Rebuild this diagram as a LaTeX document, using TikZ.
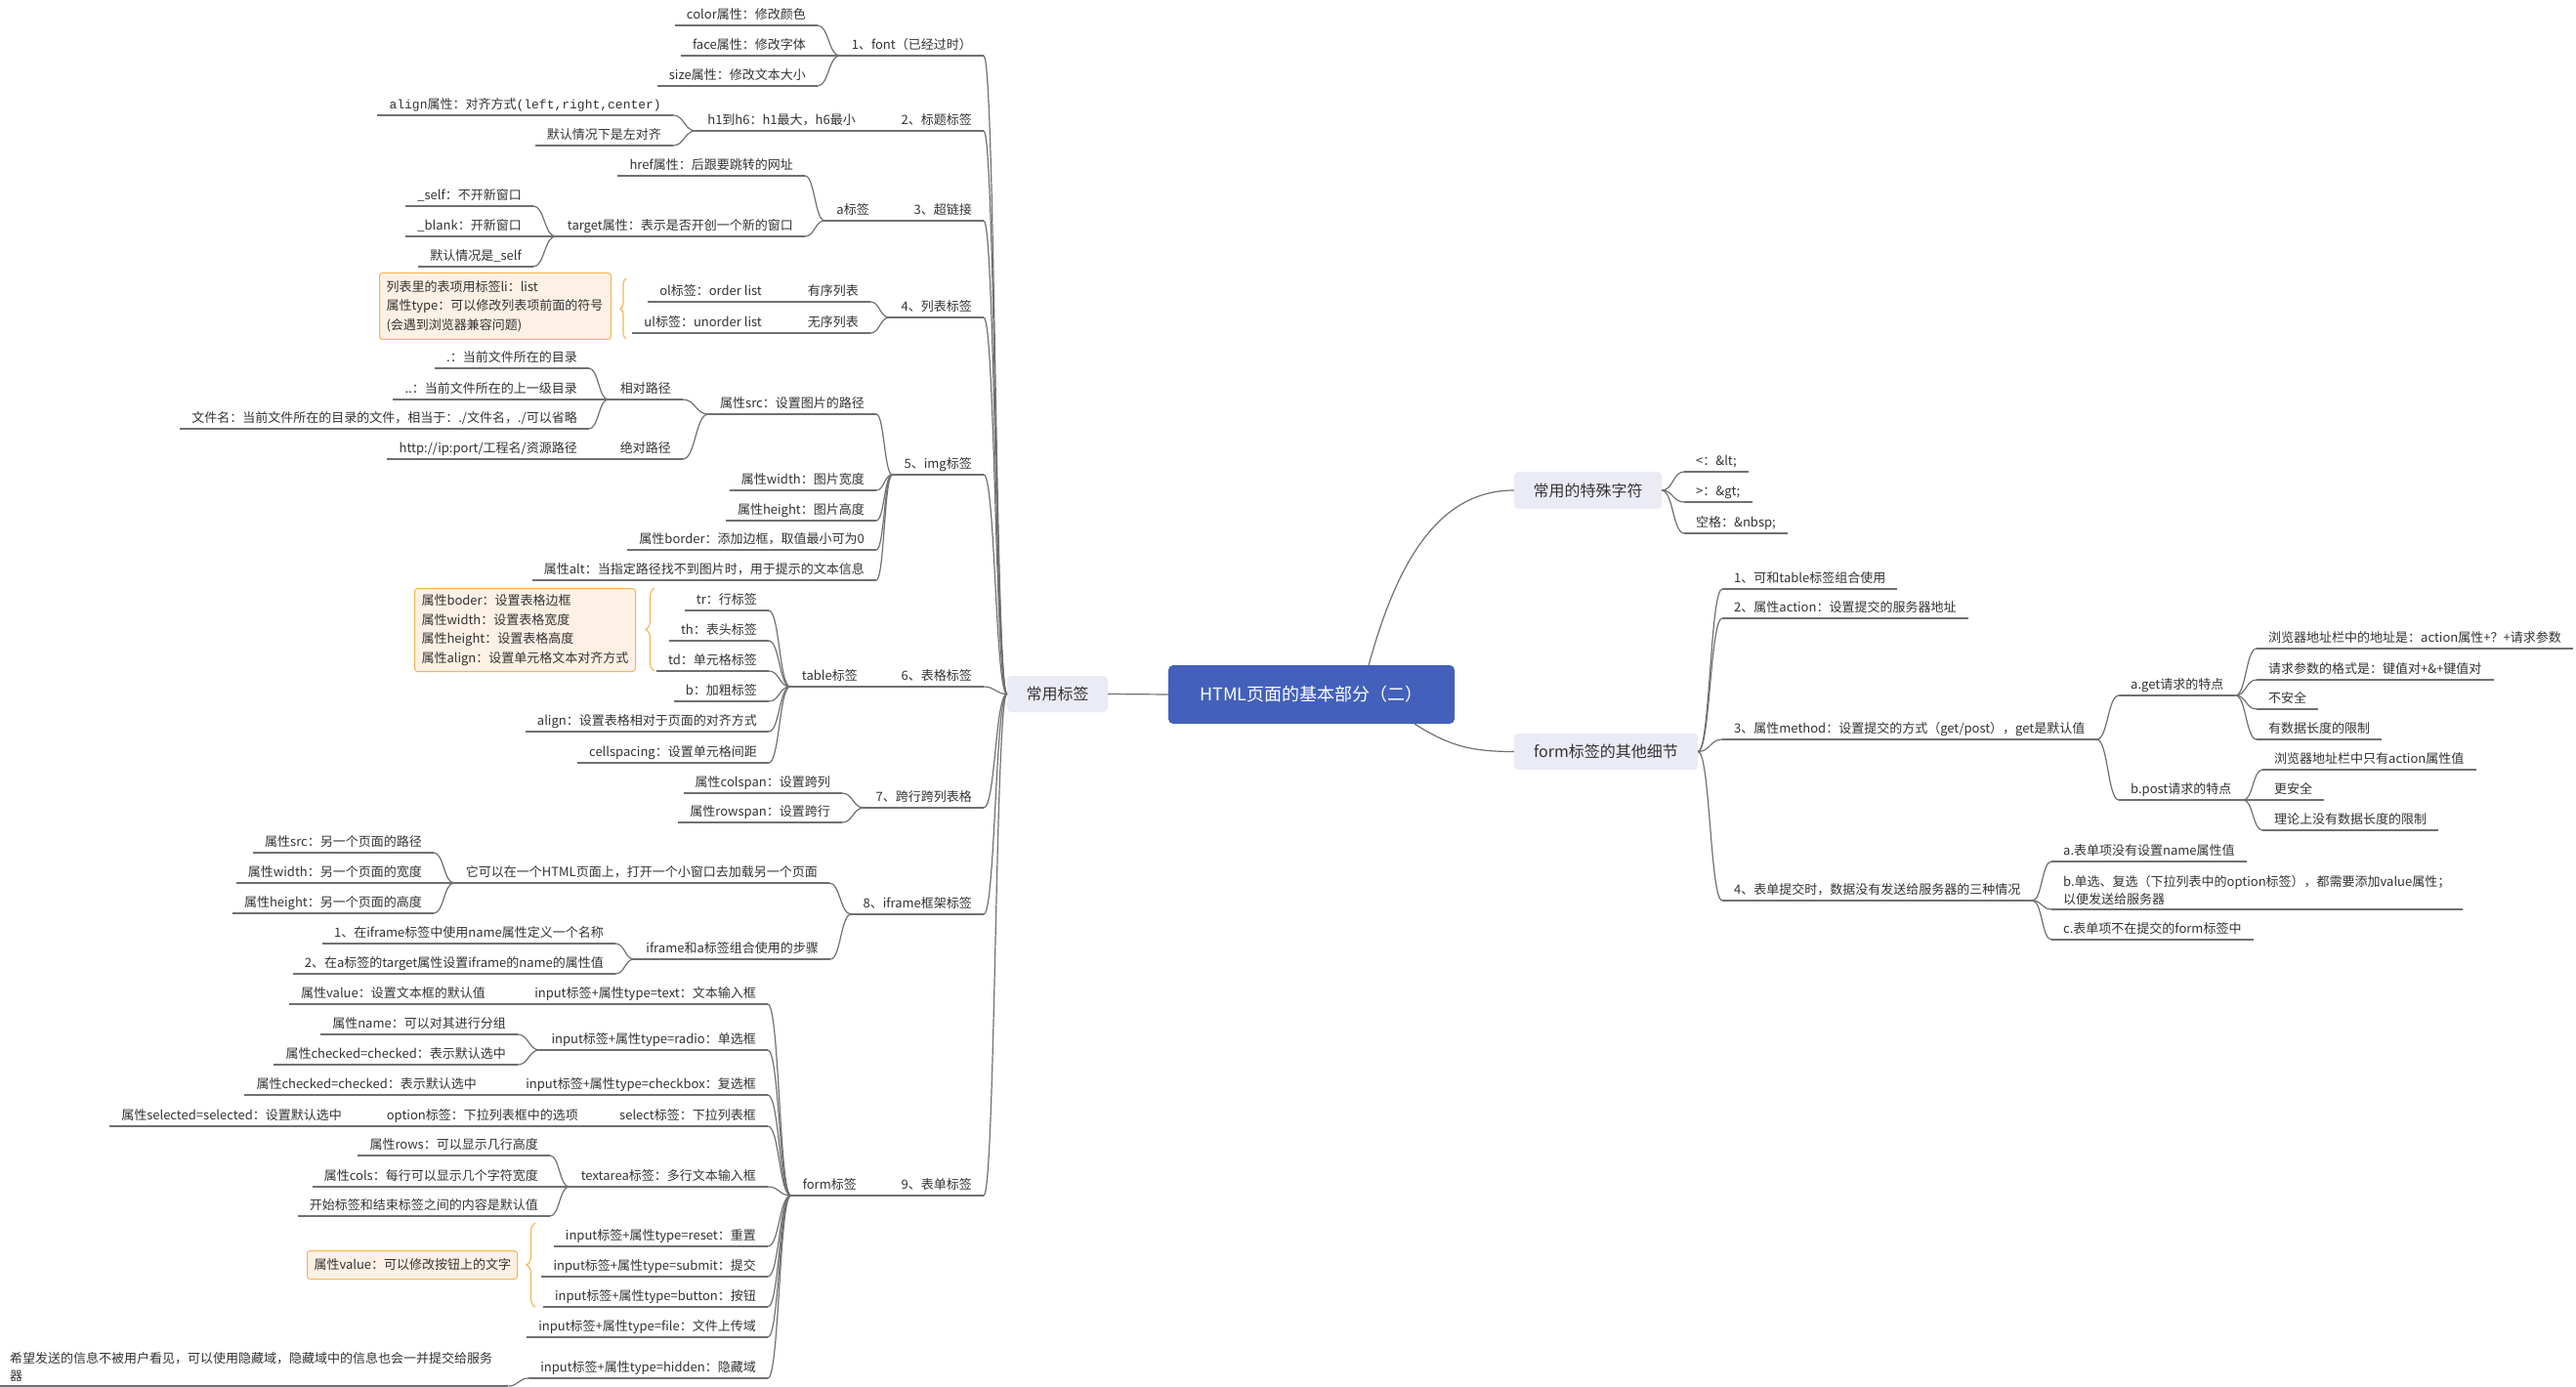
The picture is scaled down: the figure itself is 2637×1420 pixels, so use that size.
\documentclass[tikz,border=0pt]{standalone}
\usepackage{fontspec}
\setmainfont{Noto Sans CJK SC}
\newfontfamily\monof{Liberation Mono}
\usetikzlibrary{calc,decorations.pathreplacing}
\definecolor{lc}{RGB}{112,112,112}
\definecolor{tc}{RGB}{51,51,51}
\definecolor{mc}{RGB}{67,97,186}
\definecolor{l1c}{RGB}{234,235,244}
\definecolor{cf}{RGB}{253,240,228}
\definecolor{cb}{RGB}{244,180,84}
\tikzset{
  ln/.style={draw=lc,line width=1.2pt},
  ul/.style={draw=lc,line width=1.2pt},
  tx/.style={text=tc,font=\fontsize{13}{15}\selectfont,inner xsep=12pt,inner ysep=3pt,text height=11pt,text depth=3pt},
  lt/.style={tx,anchor=south east},
  rt/.style={tx,anchor=south west},
  tx2/.style={text=tc,font=\fontsize{13}{18.5}\selectfont,align=left,inner xsep=12pt,inner ysep=4pt},
  l1/.style={fill=l1c,rounded corners=4pt,text=tc,font=\fontsize{16}{18}\selectfont,inner sep=0pt},
  mainn/.style={fill=mc,rounded corners=5pt,text=white,font=\fontsize{18}{20}\selectfont,inner sep=0pt},
  cbox/.style={fill=cf,draw=cb,line width=1pt,rounded corners=3pt,text=tc,font=\fontsize{13}{19.5}\selectfont,align=left,inner xsep=7pt,anchor=north west},
  brc/.style={draw=cb,line width=1.1pt,decorate},
}
\newcommand\mmL[5][]{\node[lt,#1] (#2) at (#3,#4) {#5};\draw[ul] (#2.south west) -- (#2.south east);}
\newcommand\mmR[5][]{\node[rt,#1] (#2) at (#3,#4) {#5};\draw[ul] (#2.south west) -- (#2.south east);}
\newcommand\mmC[2]{\draw[ln] (#1) .. controls ($(#1)!0.5!(#1-|#2)$) and ($(#2)!0.5!(#2-|#1)$) .. (#2);}
\begin{document}
\begin{tikzpicture}[x=1pt,y=-1pt]
\fill[white] (0,0) rectangle (2637,1420);
\useasboundingbox (0,0) rectangle (2637,1420);
% central
\node[mainn,minimum width=293pt,minimum height=60pt] (main) at (1342.5,711) {HTML页面的基本部分（二）};
\node[l1,minimum width=103pt,minimum height=37pt] (cy) at (1082.5,710.5) {常用标签};
\node[l1,minimum width=151pt,minimum height=38pt] (sp) at (1625.5,502) {常用的特殊字符};
\node[l1,minimum width=188pt,minimum height=37pt] (fo) at (1644,769.5) {form标签的其他细节};
\coordinate (ms) at ($(main.north west)!0.7!(main.north east)$);
\coordinate (mf) at ($(main.south west)!0.86!(main.south east)$);
\draw[ln] (main.west) -- (cy.east);
\draw[ln] (ms) .. controls +(30,-110) and +(-75,0) .. (sp.west);
\draw[ln] (mf) .. controls +(35,22) and +(-45,0) .. (fo.west);
% ---- left: level 1
\mmL{f1}{1007}{57}{1、font（已经过时）}
\mmL{f2}{1007}{134}{2、标题标签}
\mmL{f3}{1007}{226}{3、超链接}
\mmL{f4}{1007}{325}{4、列表标签}
\mmL{f5}{1007}{486}{5、img标签}
\mmL{f6}{1007}{703}{6、表格标签}
\mmL{f7}{1007}{827}{7、跨行跨列表格}
\mmL{f8}{1007}{936}{8、iframe框架标签}
\mmL{f9}{1007}{1224}{9、表单标签}
\foreach \c in {f1,f2,f3,f4,f5,f6,f7,f8,f9} {\mmC{\c.south east}{cy.west}}
% 1 font
\mmL{f1a}{837}{26}{color属性：修改颜色}
\mmL{f1b}{837}{57}{face属性：修改字体}
\mmL{f1c}{837}{88}{size属性：修改文本大小}
\foreach \c in {f1a,f1b,f1c} {\mmC{\c.south east}{f1.south west}}
% 2 heading
\mmL{f2a}{888}{134}{h1到h6：h1最大，h6最小}
\mmL{f2a1}{689}{118}{{\monof align}属性：对齐方式{\monof (left,right,center)}}
\mmL{f2a2}{689}{149}{默认情况下是左对齐}
\mmC{f2a.south east}{f2.south west}
\foreach \c in {f2a1,f2a2} {\mmC{\c.south east}{f2a.south west}}
% 3 link
\mmL{f3a}{902}{226}{a标签}
\mmL{f3a1}{824}{180}{href属性：后跟要跳转的网址}
\mmL{f3a2}{824}{242}{target属性：表示是否开创一个新的窗口}
\mmL{f3a2a}{546}{211}{\_self：不开新窗口}
\mmL{f3a2b}{546}{242}{\_blank：开新窗口}
\mmL{f3a2c}{546}{273}{默认情况是\_self}
\mmC{f3a.south east}{f3.south west}
\foreach \c in {f3a1,f3a2} {\mmC{\c.south east}{f3a.south west}}
\foreach \c in {f3a2a,f3a2b,f3a2c} {\mmC{\c.south east}{f3a2.south west}}
% 4 list
\mmL{f4a}{891}{309}{有序列表}
\mmL{f4a1}{792}{309}{ol标签：order list}
\mmL{f4b}{891}{341}{无序列表}
\mmL{f4b1}{792}{341}{ul标签：unorder list}
\foreach \c in {f4a,f4b} {\mmC{\c.south east}{f4.south west}}
\mmC{f4a1.south east}{f4a.south west}
\mmC{f4b1.south east}{f4b.south west}
\node[cbox,text width=223pt,minimum height=68pt] (c4) at (388,279) {列表里的表项用标签li：list\\属性type：可以修改列表项前面的符号\\(会遇到浏览器兼容问题)};
\draw[brc,decoration={brace,amplitude=6pt}] (641,347) -- (641,285);
% 5 img
\mmL{f5a}{897}{424}{属性src：设置图片的路径}
\mmL{f5a1}{699}{409}{相对路径}
\mmL{f5a1a}{603}{377}{.：当前文件所在的目录}
\mmL{f5a1b}{603}{409}{..：当前文件所在的上一级目录}
\mmL{f5a1c}{603}{439}{文件名：当前文件所在的目录的文件，相当于：./文件名，./可以省略}
\mmL{f5a2}{699}{470}{绝对路径}
\mmL{f5a2a}{603}{470}{http://ip:port/工程名/资源路径}
\mmL{f5b}{897}{502}{属性width：图片宽度}
\mmL{f5c}{897}{533}{属性height：图片高度}
\mmL{f5d}{897}{563}{属性border：添加边框，取值最小可为0}
\mmL{f5e}{897}{594}{属性alt：当指定路径找不到图片时，用于提示的文本信息}
\foreach \c in {f5a,f5b,f5c,f5d,f5e} {\mmC{\c.south east}{f5.south west}}
\foreach \c in {f5a1,f5a2} {\mmC{\c.south east}{f5a.south west}}
\foreach \c in {f5a1a,f5a1b,f5a1c} {\mmC{\c.south east}{f5a1.south west}}
\mmC{f5a2a.south east}{f5a2.south west}
% 6 table
\mmL{f6a}{890}{703}{table标签}
\mmL{f6a1}{787}{625}{tr：行标签}
\mmL{f6a2}{787}{656}{th：表头标签}
\mmL{f6a3}{787}{687}{td：单元格标签}
\mmL{f6a4}{787}{718}{b：加粗标签}
\mmL{f6a5}{787}{749}{align：设置表格相对于页面的对齐方式}
\mmL{f6a6}{787}{781}{cellspacing：设置单元格间距}
\mmC{f6a.south east}{f6.south west}
\foreach \c in {f6a1,f6a2,f6a3,f6a4,f6a5,f6a6} {\mmC{\c.south east}{f6a.south west}}
\node[cbox,text width=212pt,minimum height=85pt] (c6) at (424,602) {属性boder：设置表格边框\\属性width：设置表格宽度\\属性height：设置表格高度\\属性align：设置单元格文本对齐方式};
\draw[brc,decoration={brace,amplitude=9pt}] (670,687) -- (670,602);
% 7 span
\mmL{f7a}{862}{812}{属性colspan：设置跨列}
\mmL{f7b}{862}{842}{属性rowspan：设置跨行}
\foreach \c in {f7a,f7b} {\mmC{\c.south east}{f7.south west}}
% 8 iframe
\mmL{f8a}{849}{904}{它可以在一个HTML页面上，打开一个小窗口去加载另一个页面}
\mmL{f8a1}{444}{873}{属性src：另一个页面的路径}
\mmL{f8a2}{444}{904}{属性width：另一个页面的宽度}
\mmL{f8a3}{444}{935}{属性height：另一个页面的高度}
\mmL{f8b}{850}{982}{iframe和a标签组合使用的步骤}
\mmL{f8b1}{630}{966}{1、在iframe标签中使用name属性定义一个名称}
\mmL{f8b2}{630}{997}{2、在a标签的target属性设置iframe的name的属性值}
\foreach \c in {f8a,f8b} {\mmC{\c.south east}{f8.south west}}
\foreach \c in {f8a1,f8a2,f8a3} {\mmC{\c.south east}{f8a.south west}}
\foreach \c in {f8b1,f8b2} {\mmC{\c.south east}{f8b.south west}}
% 9 form
\mmL{f9a}{889}{1224}{form标签}
\mmC{f9a.south east}{f9.south west}
\mmL{g1}{786}{1028}{input标签+属性type=text：文本输入框}
\mmL{g1a}{509}{1028}{属性value：设置文本框的默认值}
\mmL{g2}{786}{1075}{input标签+属性type=radio：单选框}
\mmL{g2a}{530}{1059}{属性name：可以对其进行分组}
\mmL{g2b}{530}{1090}{属性checked=checked：表示默认选中}
\mmL{g3}{786}{1121}{input标签+属性type=checkbox：复选框}
\mmL{g3a}{500}{1121}{属性checked=checked：表示默认选中}
\mmL{g4}{786}{1153}{select标签：下拉列表框}
\mmL{g4a}{604}{1153}{option标签：下拉列表框中的选项}
\mmL{g4a1}{362}{1153}{属性selected=selected：设置默认选中}
\mmL{g5}{786}{1215}{textarea标签：多行文本输入框}
\mmL{g5a}{563}{1183}{属性rows：可以显示几行高度}
\mmL{g5b}{563}{1215}{属性cols：每行可以显示几个字符宽度}
\mmL{g5c}{563}{1245}{开始标签和结束标签之间的内容是默认值}
\mmL{g6}{786}{1276}{input标签+属性type=reset：重置}
\mmL{g7}{786}{1307}{input标签+属性type=submit：提交}
\mmL{g8}{786}{1338}{input标签+属性type=button：按钮}
\mmL{g9}{786}{1369}{input标签+属性type=file：文件上传域}
\mmL{g10}{786}{1411}{input标签+属性type=hidden：隐藏域}
\node[tx2,anchor=south west,inner xsep=10pt,text width=500pt] (g10a) at (0,1419) {希望发送的信息不被用户看见，可以使用隐藏域，隐藏域中的信息也会一并提交给服务\\器};
\draw[ul] (g10a.south west) -- (g10a.south east);
\foreach \c in {g1,g2,g3,g4,g5,g6,g7,g8,g9,g10} {\mmC{\c.south east}{f9a.south west}}
\mmC{g1a.south east}{g1.south west}
\foreach \c in {g2a,g2b} {\mmC{\c.south east}{g2.south west}}
\mmC{g3a.south east}{g3.south west}
\mmC{g4a.south east}{g4.south west}
\mmC{g4a1.south east}{g4a.south west}
\foreach \c in {g5a,g5b,g5c} {\mmC{\c.south east}{g5.south west}}
\mmC{g10a.south east}{g10.south west}
\node[cbox,text width=201pt,minimum height=29pt] (c9) at (314,1280) {属性value：可以修改按钮上的文字};
\draw[brc,decoration={brace,amplitude=9pt}] (548,1338) -- (548,1252);
% ---- right: special chars
\mmR{s1}{1724}{483}{<：\&lt;}
\mmR{s2}{1724}{514}{>：\&gt;}
\mmR{s3}{1724}{546}{空格：\&nbsp;}
\foreach \c in {s1,s2,s3} {\mmC{sp.east}{\c.south west}}
% ---- right: form details
\mmR{r1}{1763}{603}{1、可和table标签组合使用}
\mmR{r2}{1763}{633}{2、属性action：设置提交的服务器地址}
\mmR{r3}{1763}{757}{3、属性method：设置提交的方式（get/post），get是默认值}
\mmR{r4}{1763}{922}{4、表单提交时，数据没有发送给服务器的三种情况}
\foreach \c in {r1,r2,r3,r4} {\mmC{fo.east}{\c.south west}}
\mmR{r3a}{2169}{712}{a.get请求的特点}
\mmR{r3b}{2169}{819}{b.post请求的特点}
\foreach \c in {r3a,r3b} {\mmC{r3.south east}{\c.south west}}
\mmR{r3a1}{2310}{664}{浏览器地址栏中的地址是：action属性+？+请求参数}
\mmR{r3a2}{2310}{696}{请求参数的格式是：键值对+\&+键值对}
\mmR{r3a3}{2310}{726}{不安全}
\mmR{r3a4}{2310}{757}{有数据长度的限制}
\foreach \c in {r3a1,r3a2,r3a3,r3a4} {\mmC{r3a.south east}{\c.south west}}
\mmR{r3b1}{2316}{788}{浏览器地址栏中只有action属性值}
\mmR{r3b2}{2316}{819}{更安全}
\mmR{r3b3}{2316}{850}{理论上没有数据长度的限制}
\foreach \c in {r3b1,r3b2,r3b3} {\mmC{r3b.south east}{\c.south west}}
\mmR{r4a}{2100}{882}{a.表单项没有设置name属性值}
\node[tx2,anchor=south west] (r4b) at (2100,931) {b.单选、复选（下拉列表中的option标签），都需要添加value属性；\\以便发送给服务器};
\draw[ul] (r4b.south west) -- (r4b.south east);
\mmR{r4c}{2100}{962}{c.表单项不在提交的form标签中}
\foreach \c in {r4a,r4b,r4c} {\mmC{r4.south east}{\c.south west}}
\end{tikzpicture}
\end{document}
